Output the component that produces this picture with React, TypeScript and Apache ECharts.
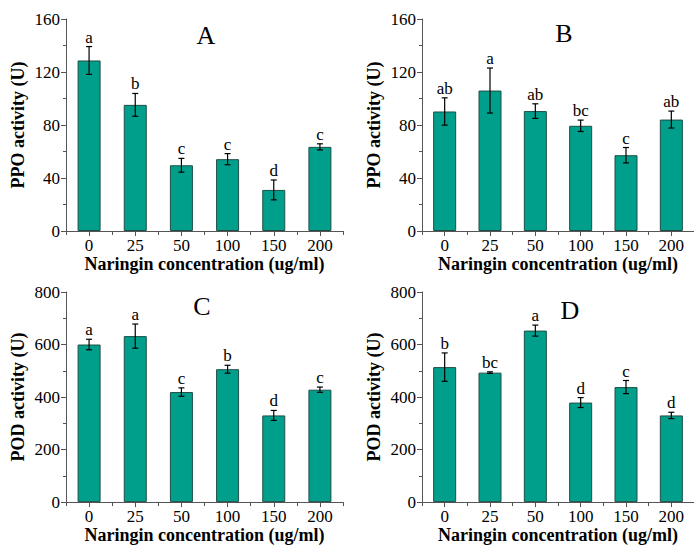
import React, { useEffect, useRef } from "react";
import * as echarts from "echarts";

const categories = ["0", "25", "50", "100", "150", "200"];

const ppoA = [128.7, 95.2, 49.6, 54.2, 31.0, 63.5];
const ppoASd = [10.5, 8.6, 5.2, 4.2, 7.5, 2.3];
const ppoALetters = ["a", "b", "c", "c", "d", "c"];

const ppoB = [90.2, 106.0, 90.5, 79.4, 57.2, 84.1];
const ppoBSd = [10.3, 17.0, 5.5, 4.3, 5.8, 6.4];
const ppoBLetters = ["ab", "a", "ab", "bc", "c", "ab"];

const podC = [600, 632, 419, 506, 330, 428];
const podCSd = [20, 46, 16, 15, 19, 10];
const podCLetters = ["a", "a", "c", "b", "d", "c"];

const podD = [514, 493, 653, 379, 438, 330];
const podDSd = [54, 3, 21, 19, 25, 12];
const podDLetters = ["b", "bc", "a", "d", "c", "d"];

const panelTitles = ["A", "B", "C", "D"];
const yNames = ["PPO activity (U)", "PPO activity (U)", "POD activity (U)", "POD activity (U)"];
const yMax = [160, 160, 800, 800];
const yInterval = [40, 40, 200, 200];

const FONT = "Liberation Serif";
const BAR = "#009F8C";
const BAR_BORDER = "#1E4F47";
const AXIS = "#555555";

export default function App() {
  const ref = useRef<HTMLDivElement>(null);

  useEffect(() => {
    if (!ref.current) return;
    const chart = echarts.init(ref.current, undefined, { renderer: "svg" });

    const panels = [
      { values: ppoA, sd: ppoASd, letters: ppoALetters },
      { values: ppoB, sd: ppoBSd, letters: ppoBLetters },
      { values: podC, sd: podCSd, letters: podCLetters },
      { values: podD, sd: podDSd, letters: podDLetters },
    ];

    const grids = [
      { left: 66, top: 19, width: 277, height: 212 },
      { left: 422, top: 19, width: 277, height: 212 },
      { left: 66, top: 292, width: 277, height: 212 },
      { left: 422, top: 292, width: 277, height: 212 },
    ];

    const titlePos = [
      [206, 35],
      [564, 33],
      [202, 306],
      [570, 310],
    ];

    const xAxis: any[] = [];
    const yAxis: any[] = [];
    const series: any[] = [];

    panels.forEach((p, i) => {
      xAxis.push({
        type: "category",
        gridIndex: i,
        data: categories,
        position: "bottom",
        name: "Naringin concentration (ug/ml)",
        nameLocation: "middle",
        nameGap: 21,
        nameTextStyle: {
          fontFamily: FONT,
          fontWeight: "bold",
          fontSize: 18,
          color: "#000",
          verticalAlign: "top",
        },
        axisLine: { show: true, lineStyle: { color: AXIS, width: 1 } },
        axisTick: { show: true, inside: false, length: 4, lineStyle: { color: AXIS } },
        axisLabel: { fontFamily: FONT, fontSize: 17, color: "#000", margin: 6 },
        splitLine: { show: false },
      });
      xAxis.push({
        type: "category",
        gridIndex: i,
        data: categories,
        position: "bottom",
        axisLine: { show: false },
        axisTick: { show: true, alignWithLabel: true, inside: false, length: 5, lineStyle: { color: AXIS } },
        axisLabel: { show: false },
        splitLine: { show: false },
      });
      yAxis.push({
        type: "value",
        gridIndex: i,
        min: 0,
        max: yMax[i],
        interval: yInterval[i],
        name: yNames[i],
        nameLocation: "middle",
        nameGap: 39,
        nameTextStyle: {
          fontFamily: FONT,
          fontWeight: "bold",
          fontSize: 18,
          color: "#000",
        },
        axisLine: { show: true, lineStyle: { color: AXIS, width: 1 } },
        axisTick: { show: true, inside: false, length: 5, lineStyle: { color: AXIS } },
        minorTick: { show: true, splitNumber: 2, length: 3, lineStyle: { color: AXIS } },
        axisLabel: { fontFamily: FONT, fontSize: 17, color: "#000", margin: 6 },
        splitLine: { show: false },
      });

      series.push({
        type: "bar",
        xAxisIndex: i * 2,
        yAxisIndex: i,
        data: p.values,
        barWidth: 23,
        itemStyle: { color: BAR, borderColor: BAR_BORDER, borderWidth: 1 },
      });

      const letters = p.letters;
      series.push({
        type: "custom",
        xAxisIndex: i * 2,
        yAxisIndex: i,
        data: p.values.map((v, k) => [k, v, p.sd[k]]),
        z: 10,
        renderItem: (params: any, api: any) => {
          const idx = api.value(0);
          const v = api.value(1);
          const s = api.value(2);
          const top = api.coord([idx, v + s]);
          const bot = api.coord([idx, v - s]);
          const hw = 3;
          const st = { stroke: "#000", lineWidth: 1.2 };
          return {
            type: "group",
            children: [
              { type: "line", shape: { x1: top[0], y1: top[1], x2: bot[0], y2: bot[1] }, style: st },
              { type: "line", shape: { x1: top[0] - hw, y1: top[1], x2: top[0] + hw, y2: top[1] }, style: st },
              { type: "line", shape: { x1: bot[0] - hw, y1: bot[1], x2: bot[0] + hw, y2: bot[1] }, style: st },
              {
                type: "text",
                style: {
                  text: letters[params.dataIndex],
                  x: top[0],
                  y: top[1] - 1,
                  align: "center",
                  verticalAlign: "bottom",
                  fontFamily: FONT,
                  fontSize: 17,
                  fill: "#000",
                },
              },
            ],
          };
        },
      });
    });

    const graphic = panelTitles.map((t, i) => ({
      type: "text",
      x: titlePos[i][0],
      y: titlePos[i][1],
      style: {
        text: t,
        align: "center",
        verticalAlign: "middle",
        fontFamily: FONT,
        fontSize: 26,
        fill: "#000",
      },
    }));

    chart.setOption({
      animation: false,
      backgroundColor: "#fff",
      textStyle: { fontFamily: FONT },
      grid: grids,
      xAxis,
      yAxis,
      series,
      graphic,
    });

    return () => chart.dispose();
  }, []);

  return (
    <div
      ref={ref}
      style={{ position: "fixed", left: 0, top: 0, width: 694, height: 545 }}
    />
  );
}
